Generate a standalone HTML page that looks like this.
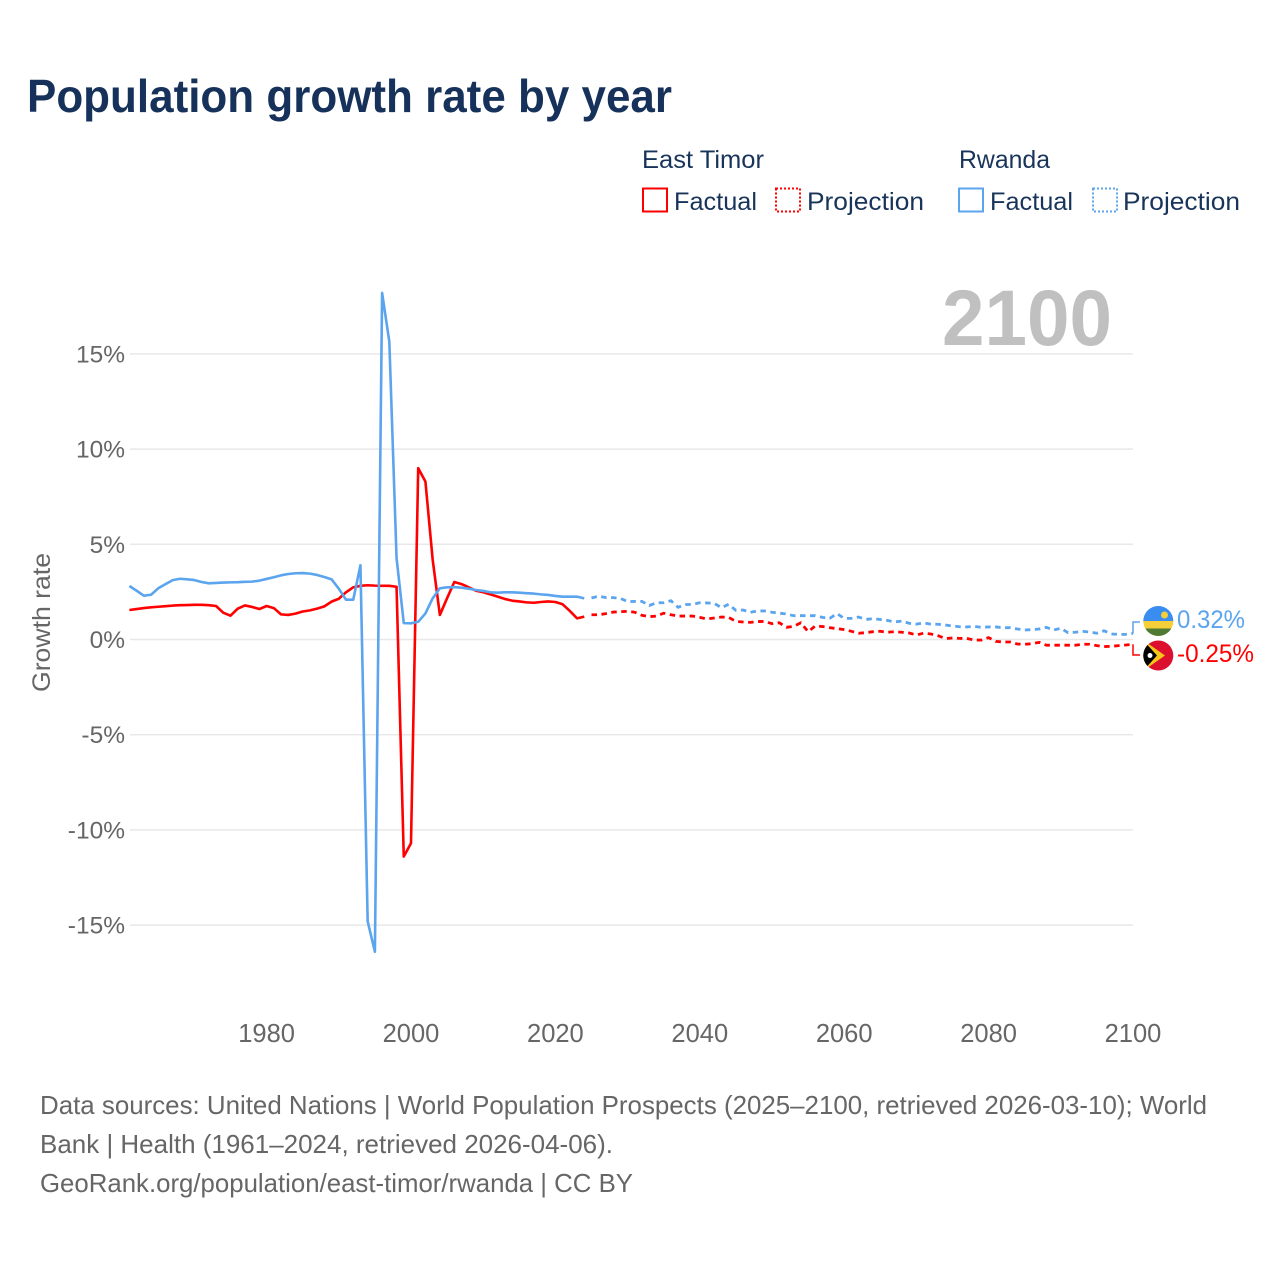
<!DOCTYPE html>
<html lang="en">
<head>
<meta charset="utf-8">
<title>Population growth rate by year</title>
<style>
html,body{margin:0;padding:0;background:#fff;width:1280px;height:1280px;overflow:hidden}
svg{display:block}
text{font-family:"Liberation Sans",sans-serif}
</style>
</head>
<body>
<svg id="chart" xmlns="http://www.w3.org/2000/svg" width="1280" height="1280" viewBox="0 0 1280 1280">
  <defs>
    <clipPath id="flag-clip-top"><circle cx="1158.3" cy="621" r="15"/></clipPath>
    <clipPath id="flag-clip-bottom"><circle cx="1158.3" cy="655.5" r="15"/></clipPath>
  </defs>
  <rect width="1280" height="1280" fill="#fff"/>

  <text x="27" y="112" font-size="46" font-weight="700" fill="#16325a" textLength="645" lengthAdjust="spacingAndGlyphs">Population growth rate by year</text>

  <g>
    <text x="642" y="168" font-size="25" fill="#18345a" textLength="122" lengthAdjust="spacingAndGlyphs">East Timor</text>
    <rect x="643" y="188.500" width="24" height="23" fill="none" stroke="#ff0000" stroke-width="2"/>
    <text x="674" y="210" font-size="25" fill="#18345a" textLength="83" lengthAdjust="spacingAndGlyphs">Factual</text>
    <rect x="776" y="188.500" width="24" height="23" fill="none" stroke="#ff0000" stroke-width="2" stroke-dasharray="2 2"/>
    <text x="807" y="210" font-size="25" fill="#18345a" textLength="117" lengthAdjust="spacingAndGlyphs">Projection</text>
    <text x="959" y="168" font-size="25" fill="#18345a" textLength="91" lengthAdjust="spacingAndGlyphs">Rwanda</text>
    <rect x="959" y="188.500" width="24" height="23" fill="none" stroke="#5ba4ee" stroke-width="2"/>
    <text x="990" y="210" font-size="25" fill="#18345a" textLength="83" lengthAdjust="spacingAndGlyphs">Factual</text>
    <rect x="1093" y="188.500" width="24" height="23" fill="none" stroke="#5ba4ee" stroke-width="2" stroke-dasharray="2 2"/>
    <text x="1123" y="210" font-size="25" fill="#18345a" textLength="117" lengthAdjust="spacingAndGlyphs">Projection</text>
  </g>

  <g id="grid"></g>
  <g id="y-ticks"></g>
  <g id="x-ticks"></g>

  <text x="1112" y="345" font-size="79" font-weight="700" fill="#c0c0c0" text-anchor="end" textLength="170" lengthAdjust="spacingAndGlyphs">2100</text>

  <text transform="translate(50,622.500) rotate(-90)" font-size="25" fill="#666666" text-anchor="middle" textLength="139" lengthAdjust="spacingAndGlyphs">Growth rate</text>

  <g id="series"></g>

  <g>
    <g clip-path="url(#flag-clip-top)">
      <rect x="1143" y="606" width="31" height="16" fill="#3a8df0"/>
      <rect x="1143" y="621" width="31" height="7.500" fill="#f5cf3a"/>
      <rect x="1143" y="628.500" width="31" height="8" fill="#4f7a34"/>
      <circle cx="1164.500" cy="615" r="3.500" fill="#f5cf3a"/>
    </g>
    <g clip-path="url(#flag-clip-bottom)">
      <rect x="1143" y="640" width="31" height="31" fill="#dc0f2e"/>
      <polygon points="1143,640 1165,655.500 1143,671" fill="#f5c518"/>
      <polygon points="1143,640 1157,655.500 1143,671" fill="#000000"/>
      <circle cx="1150" cy="655.500" r="2.500" fill="#ffffff"/>
    </g>
    <text x="1177" y="628" font-size="25" fill="#5ba4ee" textLength="68" lengthAdjust="spacingAndGlyphs">0.32%</text>
    <text x="1177" y="662" font-size="25" fill="#ff0000" textLength="77" lengthAdjust="spacingAndGlyphs">-0.25%</text>
  </g>

  <g>
    <text x="40" y="1114" font-size="26" fill="#666666" textLength="1167" lengthAdjust="spacingAndGlyphs">Data sources: United Nations | World Population Prospects (2025–2100, retrieved 2026-03-10); World</text>
    <text x="40" y="1153" font-size="26" fill="#666666" textLength="573" lengthAdjust="spacingAndGlyphs">Bank | Health (1961–2024, retrieved 2026-04-06).</text>
    <text x="40" y="1192" font-size="26" fill="#666666" textLength="593" lengthAdjust="spacingAndGlyphs">GeoRank.org/population/east-timor/rwanda | CC BY</text>
  </g>
</svg>
<script>
const yTickValues = [15, 10, 5, 0, -5, -10, -15];
const xTickYears = [1980, 2000, 2020, 2040, 2060, 2080, 2100];
const factualStartYear = 1961;
const projectionStartYear = 2025;

const eastTimorFactual = [
  1.55,1.60,1.65,1.69,1.72,1.75,1.78,1.80,1.81,1.82,
  1.82,1.80,1.76,1.41,1.25,1.62,1.79,1.71,1.60,1.76,
  1.65,1.32,1.29,1.36,1.47,1.53,1.62,1.74,1.99,2.14,
  2.48,2.74,2.82,2.85,2.83,2.82,2.82,2.77,-11.4,-10.7,
  9.0,8.29,4.2,1.29,2.17,3.02,2.91,2.74,2.56,2.48,
  2.37,2.25,2.13,2.04,2.0,1.95,1.93,1.97,2.0,1.97,
  1.85,1.5,1.11,1.2
];
const eastTimorProjection = [
  1.30,1.30,1.36,1.44,1.46,1.48,1.43,1.27,1.20,1.23,
  1.38,1.30,1.23,1.23,1.23,1.16,1.08,1.13,1.18,1.16,
  0.95,0.92,0.90,0.94,0.95,0.83,0.88,0.64,0.69,0.88,
  0.41,0.71,0.68,0.62,0.57,0.52,0.43,0.33,0.36,0.41,
  0.43,0.38,0.41,0.38,0.34,0.24,0.33,0.29,0.20,0.05,
  0.08,0.06,0.05,-0.03,-0.03,0.10,-0.10,-0.13,-0.13,-0.24,
  -0.25,-0.22,-0.15,-0.30,-0.30,-0.30,-0.30,-0.30,-0.25,-0.25,
  -0.32,-0.37,-0.36,-0.32,-0.29,-0.25
];
const rwandaFactual = [
  2.81,2.56,2.30,2.35,2.69,2.91,3.12,3.19,3.16,3.12,
  3.02,2.95,2.97,2.99,3.0,3.01,3.03,3.04,3.09,3.18,
  3.27,3.37,3.44,3.48,3.49,3.46,3.39,3.28,3.16,2.67,
  2.09,2.09,3.9,-14.8,-16.4,18.2,15.64,4.28,0.86,0.85,
  0.93,1.37,2.16,2.69,2.74,2.75,2.72,2.67,2.6,2.55,
  2.48,2.46,2.48,2.48,2.46,2.43,2.41,2.37,2.34,2.29,
  2.25,2.25,2.25,2.16
];
const rwandaProjection = [
  2.18,2.28,2.2,2.2,2.16,1.99,2.0,2.0,1.78,1.93,
  1.93,2.04,1.69,1.83,1.85,1.93,1.92,1.9,1.67,1.85,
  1.53,1.55,1.43,1.5,1.5,1.43,1.38,1.34,1.25,1.25,
  1.25,1.25,1.16,1.11,1.36,1.11,1.11,1.18,1.05,1.1,
  1.05,1.0,0.92,0.97,0.85,0.81,0.87,0.81,0.8,0.76,
  0.71,0.67,0.66,0.69,0.64,0.66,0.66,0.62,0.62,0.55,
  0.5,0.52,0.55,0.64,0.5,0.59,0.36,0.38,0.43,0.39,
  0.33,0.46,0.29,0.27,0.27,0.32
];

const SVG_NS = 'http://www.w3.org/2000/svg';
const RED = '#ff0000';
const BLUE = '#5ba4ee';
const xScale = year => 129.4 + (year - 1961) * (1133 - 129.4) / (2100 - 1961);
const yScale = value => 639.5 - value * 19.04;

function toPoints(values, startYear) {
  return values.map((v, i) => xScale(startYear + i).toFixed(2) + ',' + yScale(v).toFixed(2)).join(' ');
}

const gridGroup = document.getElementById('grid');
const yTickGroup = document.getElementById('y-ticks');
yTickValues.forEach(v => {
  const line = document.createElementNS(SVG_NS, 'line');
  
  
  line.setAttribute('x1', 130);
  line.setAttribute('x2', 1133);
  line.setAttribute('y1', yScale(v));
  line.setAttribute('y2', yScale(v));
  line.setAttribute('stroke', '#e8e8e8');
  line.setAttribute('stroke-width', 1.5);
  gridGroup.appendChild(line);

  const label = document.createElementNS(SVG_NS, 'text');
  
  
  label.setAttribute('x', 125);
  label.setAttribute('y', yScale(v) + 8.5);
  label.setAttribute('text-anchor', 'end');
  label.setAttribute('font-size', 24.5);
  label.setAttribute('fill', '#666666');
  label.textContent = v + '%';
  yTickGroup.appendChild(label);
});

const xTickGroup = document.getElementById('x-ticks');
xTickYears.forEach(year => {
  const label = document.createElementNS(SVG_NS, 'text');
  
  
  label.setAttribute('x', xScale(year));
  label.setAttribute('y', 1042);
  label.setAttribute('text-anchor', 'middle');
  label.setAttribute('font-size', 25.5);
  label.setAttribute('fill', '#666666');
  label.textContent = year;
  xTickGroup.appendChild(label);
});

const seriesGroup = document.getElementById('series');

function drawLine(values, startYear, color, dashed, name) {
  const line = document.createElementNS(SVG_NS, 'polyline');
  
  
  line.setAttribute('points', toPoints(values, startYear));
  line.setAttribute('fill', 'none');
  line.setAttribute('stroke', color);
  line.setAttribute('stroke-width', dashed ? 2.8 : 2.6);
  line.setAttribute('stroke-linejoin', 'round');
  if (dashed) {
    line.setAttribute('stroke-dasharray', '5.5 4.5');
  }
  seriesGroup.appendChild(line);
}

function drawConnector(lastValue, flagY, color, name) {
  const x = xScale(2100);
  const path = document.createElementNS(SVG_NS, 'polyline');
  
  
  path.setAttribute('points', x + ',' + yScale(lastValue) + ' ' + x + ',' + flagY + ' ' + (x + 7) + ',' + flagY);
  path.setAttribute('fill', 'none');
  path.setAttribute('stroke', color);
  path.setAttribute('stroke-width', 1.5);
  seriesGroup.appendChild(path);
}

drawLine(eastTimorFactual, factualStartYear, RED, false, 'east-timor-factual-line');
drawLine(eastTimorProjection, projectionStartYear, RED, true, 'east-timor-projection-line');
drawLine(rwandaFactual, factualStartYear, BLUE, false, 'rwanda-factual-line');
drawLine(rwandaProjection, projectionStartYear, BLUE, true, 'rwanda-projection-line');
drawConnector(eastTimorProjection[eastTimorProjection.length - 1], 655, RED, 'east-timor-end-connector');
drawConnector(rwandaProjection[rwandaProjection.length - 1], 622, BLUE, 'rwanda-end-connector');
</script>
</body>
</html>
